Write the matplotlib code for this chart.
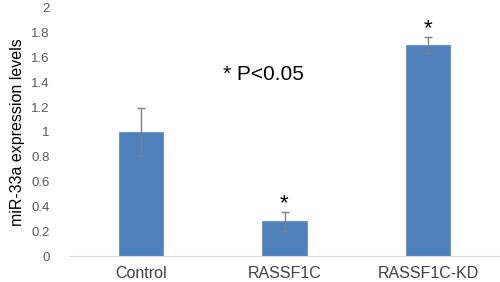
import matplotlib.pyplot as plt

# bar chart data
groups = ['Control', 'RASSF1C', 'RASSF1C-KD']
levels = [1.0, 0.28, 1.70]
errors = [0.19, 0.075, 0.065]
significant = [False, True, True]

plt.rcParams['font.family'] = ['Liberation Sans', 'DejaVu Sans']

fig = plt.figure(figsize=(5, 2.82), dpi=100)
ax = fig.add_axes([0.138, 0.092, 0.862, 0.88])

x = range(len(groups))
ax.bar(x, levels, width=0.31, color='#4f81bd', edgecolor='#5b8fd0', linewidth=0.6,
       yerr=errors, error_kw=dict(ecolor='#808080', elinewidth=1, capsize=3, capthick=1))

# significance stars over the error bars
for i, (v, e, s) in enumerate(zip(levels, errors, significant)):
    if s:
        ax.text(i, v + e - 0.02, '*', ha='center', va='bottom', fontsize=16)

ax.text(0.85, 1.46, '* P<0.05', ha='center', va='center', fontsize=15)

ax.set_xlim(-0.5, 2.5)
ax.set_ylim(0, 2)
ax.set_yticks([0, 0.2, 0.4, 0.6, 0.8, 1, 1.2, 1.4, 1.6, 1.8, 2])
ax.set_yticklabels(['0', '0.2', '0.4', '0.6', '0.8', '1', '1.2', '1.4', '1.6', '1.8', '2'],
                   fontsize=9.5, color='#595959')
ax.set_xticks(list(x))
ax.set_xticklabels(groups, fontsize=11.5, color='#404040')
ax.tick_params(axis='x', length=0, pad=7)
ax.tick_params(axis='y', length=0, pad=14)

for side in ['top', 'right', 'left']:
    ax.spines[side].set_visible(False)
ax.spines['bottom'].set_color('#d9d9d9')

ax.set_ylabel('miR-33a expression levels', fontsize=11.5, labelpad=4)

plt.savefig('out.png', dpi=100)
